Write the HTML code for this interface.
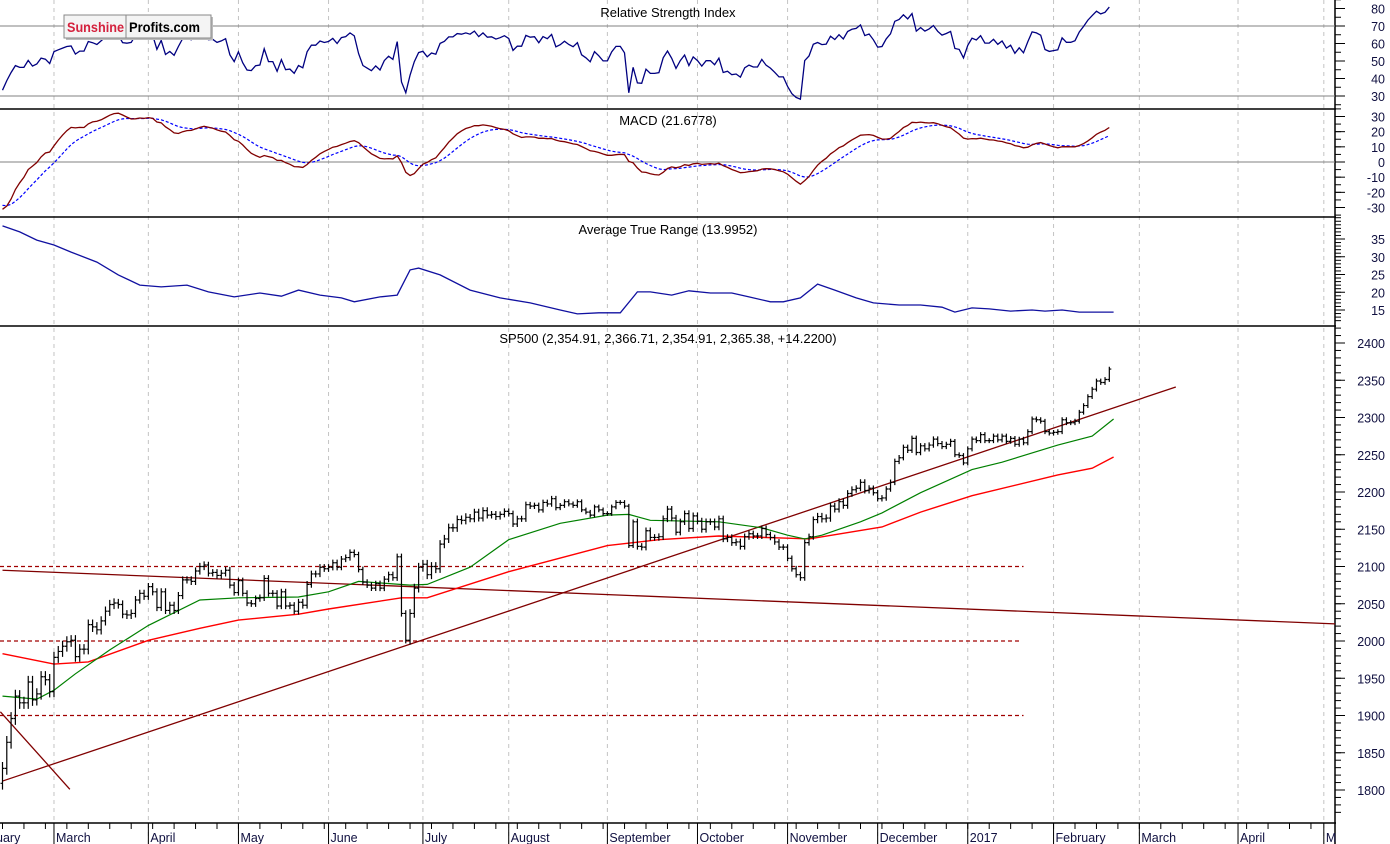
<!DOCTYPE html>
<html><head><meta charset="utf-8"><title>SP500 chart</title>
<style>
html,body{margin:0;padding:0;background:#fff;}
svg{display:block;font-family:"Liberation Sans",Arial,sans-serif;}
</style></head>
<body>
<svg id="chart" width="1390" height="844" viewBox="0 0 1390 844" xmlns="http://www.w3.org/2000/svg">
<rect x="0" y="0" width="1390" height="844" fill="#fff"/>
<g id="grid"></g>
<g id="panels"></g>
<g id="rsi"></g>
<g id="macd"></g>
<g id="atr"></g>
<g id="price"></g>
<g id="yaxis"></g>
<g id="xaxis"></g>
<g>
<rect x="66" y="17" width="147" height="23" fill="#bbb"/>
<rect x="64" y="15" width="147" height="23" fill="#f4f4f4" stroke="#888"/>
<line x1="126" y1="15" x2="126" y2="38" stroke="#888"/>
<text x="67" y="32" font-size="14" font-weight="bold" fill="#d4213d" textLength="57" lengthAdjust="spacingAndGlyphs">Sunshine</text>
<text x="129" y="32" font-size="14" font-weight="bold" fill="#000" textLength="71" lengthAdjust="spacingAndGlyphs">Profits.com</text>
</g>
</svg>
<script>
// ---- data ----
const closes=[1829,1864,1896,1926,1917,1917,1945,1921,1929,1952,1948,1932,
1978,1986,1993,1999,2001,1979,1989,1989,2022,2019,2015,2027,2040,2049,2051,2049,2036,2035,2037,2055,2064,2060,
2073,2066,2045,2066,2041,2048,2041,2061,2082,2082,2080,2094,2100,2102,2091,2092,2088,2091,2095,2075,2065,
2081,2064,2051,2050,2057,2058,2084,2064,2064,2047,2066,2047,2048,2040,2052,2048,2076,2090,2090,2099,2097,
2099,2105,2099,2110,2112,2119,2116,2096,2079,2075,2071,2077,2071,2083,2089,2085,2113,2037,2001,2037,2071,2099,
2103,2089,2100,2097,2130,2137,2152,2152,2163,2162,2166,2164,2173,2165,2175,2169,2170,2167,2170,2174,
2171,2157,2164,2164,2183,2181,2182,2176,2186,2184,2191,2179,2182,2187,2184,2182,2187,2176,2173,2169,2180,2176,2171,
2171,2180,2186,2186,2181,2128,2160,2127,2126,2148,2139,2139,2140,2164,2177,2165,2146,2160,2171,2151,2168,
2161,2150,2160,2160,2153,2164,2137,2139,2132,2133,2127,2140,2144,2141,2141,2151,2143,2139,2133,2126,2126,
2111,2097,2089,2085,2132,2140,2163,2167,2164,2165,2181,2177,2187,2182,2198,2203,2205,2213,2202,2205,2199,
2191,2192,2204,2213,2241,2246,2260,2256,2272,2253,2262,2258,2263,2271,2265,2261,2264,2268,2250,2249,2239,
2258,2271,2269,2277,2269,2269,2275,2270,2275,2268,2272,2264,2271,2266,2281,2298,2297,2295,2281,2279,
2280,2281,2297,2293,2293,2295,2307,2316,2328,2338,2349,2347,2351,2365];
const atrIdx=[0,4,8,12,16,22,27,32,37,43,48,54,60,65,69,74,79,82,88,92,95,97,102,109,116,123,130,134,139,144,148,151,156,160,165,170,174,179,182,186,190,194,199,203,209,214,219,222,226,230,235,240,243,247,251,256,259];
const atrVals=[38.7,37,34.7,33.3,31.3,28.5,24.9,22,21.5,22,20.1,18.7,19.8,18.9,20.6,19.2,18.4,17.3,18.7,19.2,26.3,26.8,24.9,20.6,18.4,17,15,13.9,14.2,14.2,20.1,20.1,19.2,20.4,19.8,19.8,18.7,17.3,17.3,18.4,22.3,20.6,18.4,17,16.4,16.4,15.8,14.4,15.6,15.3,14.7,15,14.7,15,14.4,14.4,14.4];
const greenIdx=[0,8,12,17,25,34,46,55,69,76,83,95,99,109,118,130,141,146,151,167,177,183,187,191,200,205,214,226,233,246,254,259];
const greenVals=[1926,1922,1934,1956,1988,2021,2055,2058,2059,2066,2080,2075,2076,2099,2136,2158,2169,2170,2162,2160,2152,2142,2137,2142,2160,2172,2199,2230,2240,2263,2275,2298];
const redIdx=[0,12,20,34,46,55,69,76,93,99,118,141,153,167,183,188,205,214,226,246,254,259];
const redVals=[1983,1969,1972,2001,2017,2028,2036,2043,2058,2058,2093,2128,2136,2141,2138,2137,2153,2173,2195,2223,2232,2247];
const monthLabels=["uary","March","April","May","June","July","August","September","October","November","December","2017","February","March","April","M"];
const monthIdx=[-12,12,34,55,76,98,118,141,162,183,204,225,245,265,288,308];
const priceTicks=[2400,2350,2300,2250,2200,2150,2100,2050,2000,1950,1900,1850,1800];
const rsiTicks=[80,70,60,50,40,30];
const macdTicks=[30,20,10,0,-10,-20,-30];
const atrTicks=[35,30,25,20,15];
const levels=[2100,2000,1900];
const levelEndIdx=[238,237,238];

// ---- axes ----
const X=i=>2.5+i*4.29;
const PY=p=>343+(2400-p)*0.745;
const RY=v=>96-(v-30)*1.75;
const MY=v=>162-v*1.517;
const AY=v=>310-(v-15)*3.55;
const NS="http://www.w3.org/2000/svg";
function mk(parent,tag,attrs){const e=document.createElementNS(NS,tag);for(const k in attrs)e.setAttribute(k,attrs[k]);document.getElementById(parent).appendChild(e);return e;}
function pathOf(idx,vals,fy){return idx.map((i,k)=>(k?'L':'M')+X(i).toFixed(1)+' '+fy(vals[k]).toFixed(1)).join(' ');}

monthIdx.forEach((mi,k)=>{if(k===0)return;
 const g=mk('grid','line',{x1:X(mi),x2:X(mi),y1:0,y2:844,stroke:'#c4c4c4','stroke-dasharray':'4,4'});
 
 
});
[109,217,326,823].forEach(y=>{const l=mk('panels','line',{x1:0,x2:1336,y1:y,y2:y,stroke:'#000','stroke-width':1.5});
 
 });
const ax=mk('panels','line',{x1:1335,x2:1335,y1:0,y2:844,stroke:'#000','stroke-width':1.5});



// ---- RSI ----
const rsi=[];{let ag=10,al=20;rsi.push(100-100/(1+ag/al));
 for(let i=1;i<closes.length;i++){const d=closes[i]-closes[i-1];ag=(ag*13+Math.max(d,0))/14;al=(al*13+Math.max(-d,0))/14;rsi.push(al===0?100:100-100/(1+ag/al));}}
[70,30].forEach(v=>{const l=mk('rsi','line',{x1:0,x2:1335,y1:RY(v),y2:RY(v),stroke:'#808080'});
 
 });
const allIdx=closes.map((c,i)=>i);
const rl=mk('rsi','path',{d:pathOf(allIdx,rsi,RY),fill:'none',stroke:'#000080','stroke-width':1.3});


const rt=mk('rsi','text',{x:668,y:17,'font-size':13,'text-anchor':'middle'});rt.textContent='Relative Strength Index';



// ---- MACD ----
const macd=[],sig=[];{let e12=1872,e26=1902,s=-28;
 for(let i=0;i<closes.length;i++){e12+=(closes[i]-e12)*2/13;e26+=(closes[i]-e26)*2/27;const m=e12-e26;s+=(m-s)*0.2;macd.push(m);sig.push(s);}}
const zl=mk('macd','line',{x1:0,x2:1335,y1:MY(0),y2:MY(0),stroke:'#808080'});


const sl=mk('macd','path',{d:pathOf(allIdx,sig,MY),fill:'none',stroke:'#0000ff','stroke-width':1.2,'stroke-dasharray':'3,2'});


const ml=mk('macd','path',{d:pathOf(allIdx,macd,MY),fill:'none',stroke:'#800000','stroke-width':1.3});


const mt=mk('macd','text',{x:668,y:125,'font-size':13,'text-anchor':'middle'});mt.textContent='MACD (21.6778)';



// ---- ATR ----
const al2=mk('atr','path',{d:pathOf(atrIdx,atrVals,AY),fill:'none',stroke:'#1010a0','stroke-width':1.3});


const at=mk('atr','text',{x:668,y:234,'font-size':13,'text-anchor':'middle'});at.textContent='Average True Range (13.9952)';



// ---- Price ----
levels.forEach((lv,k)=>{const l=mk('price','line',{x1:0,x2:X(levelEndIdx[k]),y1:PY(lv),y2:PY(lv),stroke:'#a00000','stroke-dasharray':'4,3','stroke-width':1.2});
 
 });
const trendLines=[[0,1812,273.5,2341],[0,2095,310.6,2023],[-0.5,1905,15.7,1801]];
trendLines.forEach((t,k)=>{const l=mk('price','line',{x1:X(t[0]),y1:PY(t[1]),x2:X(t[2]),y2:PY(t[3]),stroke:'#800000','stroke-width':1.3});
 
 });
const rm=mk('price','path',{d:pathOf(redIdx,redVals,PY),fill:'none',stroke:'#ff0000','stroke-width':1.4});


const gm=mk('price','path',{d:pathOf(greenIdx,greenVals,PY),fill:'none',stroke:'#008000','stroke-width':1.2});


function atrAt(i){let v=atrVals[0];for(let k=0;k<atrIdx.length;k++){if(atrIdx[k]<=i)v=atrVals[k];}return v;}
closes.forEach((c,i)=>{const o=i?closes[i-1]:c-20;const pad=atrAt(i)*0.22;
 const hi=Math.max(o,c)+pad,lo=Math.min(o,c)-pad;const x=X(i);
 const p=mk('price','path',{d:`M${x} ${PY(hi)}V${PY(lo)}M${x-2} ${PY(o)}H${x}M${x} ${PY(c)}H${x+2}`,stroke:'#000','stroke-width':1.2,fill:'none'});
 
 
});
const pt=mk('price','text',{x:668,y:343,'font-size':13,'text-anchor':'middle'});pt.textContent='SP500 (2,354.91, 2,366.71, 2,354.91, 2,365.38, +14.2200)';



// ---- Y axis ----
function yTicks(ticks,fy,minorStep,lo,hi){
 ticks.forEach(v=>{const y=fy(v);mk('yaxis','line',{x1:1335,x2:1345,y1:y,y2:y,stroke:'#000'});
  const t=mk('yaxis','text',{x:1385,y:y+5,'font-size':12.5,'text-anchor':'end',fill:'#101040'});t.textContent=v;
  
  });
 for(let v=lo;v<=hi;v+=minorStep){const y=fy(v);mk('yaxis','line',{x1:1335,x2:1341,y1:y,y2:y,stroke:'#000'});}
}
yTicks(rsiTicks,RY,5,25,85);
yTicks(macdTicks,MY,5,-35,35);
yTicks(atrTicks,AY,1,12,41);
yTicks(priceTicks,PY,10,1770,2420);

// ---- X axis ----
monthIdx.forEach((mi,k)=>{const x=X(mi);
 mk('xaxis','line',{x1:x,x2:x,y1:823,y2:844,stroke:'#000'});
 const t=mk('xaxis','text',{x:k===0?-4:x+2,y:842,'font-size':12.5,fill:'#101040'});t.textContent=monthLabels[k];
 
 });
for(let i=0;i<310;i+=5){const x=X(i);mk('xaxis','line',{x1:x,x2:x,y1:823,y2:829,stroke:'#000'});}
</script>
</body></html>
